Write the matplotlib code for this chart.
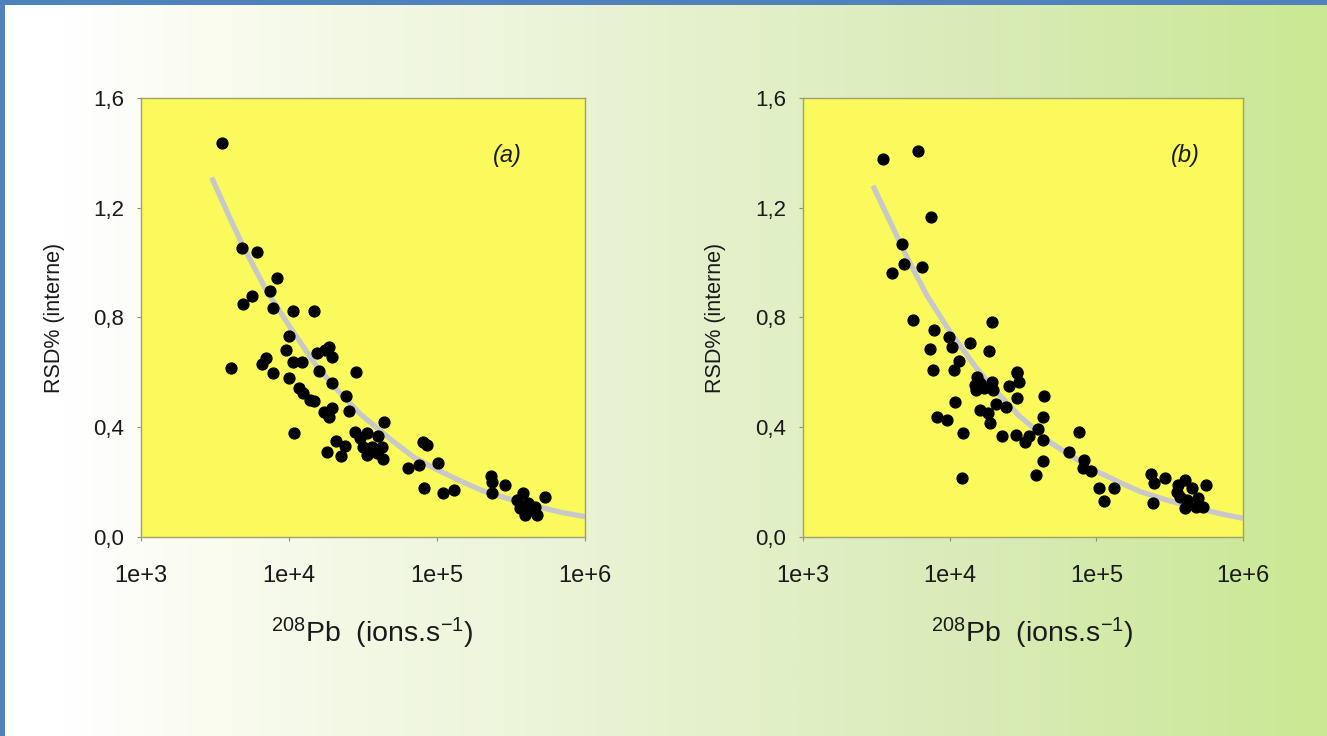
import matplotlib
matplotlib.use("Agg")
import matplotlib.pyplot as plt
import numpy as np
from matplotlib.colors import LinearSegmentedColormap
from matplotlib.patches import Rectangle

plt.rcParams['font.family'] = ['Liberation Sans', 'DejaVu Sans']
plt.rcParams['mathtext.fontset'] = 'custom'
plt.rcParams['mathtext.rm'] = 'Liberation Sans'
plt.rcParams['mathtext.it'] = 'Liberation Sans:italic'

# panel (a) measurements
a_x = [3540, 4790, 6080, 8300, 7410, 5650, 4860, 7740, 10700, 14800, 10050, 9480,
       4060, 6970, 6530, 10700, 12200, 7740, 9930, 15400, 18700, 19400, 17500, 16000,
       28400, 19400, 11600, 12400, 13900, 14800, 24300, 25300, 17300, 19400, 18600,
       43900, 10800, 20700, 18000, 22300, 23900, 27900, 30200, 33800, 40100, 31800,
       36100, 33800, 42300, 43000, 39100, 63200, 75000, 79800, 85100, 101800, 81700,
       110400, 130300, 230700, 233900, 287700, 233900, 382800, 345900, 414000,
       459200, 393600, 476400, 537000, 363900, 424600]
a_y = [1.435, 1.052, 1.040, 0.945, 0.898, 0.878, 0.849, 0.835, 0.824, 0.824,
       0.734, 0.681, 0.615, 0.651, 0.630, 0.639, 0.639, 0.599, 0.580, 0.669,
       0.694, 0.657, 0.680, 0.606, 0.603, 0.560, 0.542, 0.524, 0.499, 0.497,
       0.515, 0.460, 0.457, 0.469, 0.438, 0.420, 0.378, 0.351, 0.311, 0.296,
       0.332, 0.384, 0.360, 0.378, 0.368, 0.329, 0.329, 0.299, 0.329, 0.283,
       0.305, 0.250, 0.262, 0.347, 0.335, 0.271, 0.177, 0.159, 0.171, 0.222,
       0.202, 0.190, 0.159, 0.161, 0.135, 0.123, 0.110, 0.080, 0.080, 0.145,
       0.105, 0.098]

# panel (b) measurements
b_x = [3510, 6080, 7410, 4730, 4880, 4050, 6500, 5600, 19500, 7780, 9890, 10400,
       7350, 13800, 18500, 11600, 7690, 10700, 28600, 15300, 14900, 16100, 19300,
       19800, 15100, 17100, 28600, 29900, 25500, 28900, 44200, 10900, 20700, 24100,
       16100, 18300, 18800, 43400, 8150, 9550, 12400, 22600, 28200, 32600, 34900,
       40200, 43100, 43100, 38700, 12200, 76600, 64700, 82200, 81500, 91400, 103800,
       131800, 112700, 234400, 247200, 293800, 244300, 361400, 401800, 446700,
       558500, 371500, 413000, 495500, 401800, 477500, 535800, 352400]
b_y = [1.376, 1.408, 1.165, 1.067, 0.995, 0.962, 0.983, 0.791, 0.785, 0.754,
       0.728, 0.694, 0.684, 0.708, 0.679, 0.643, 0.609, 0.609, 0.599, 0.584,
       0.554, 0.560, 0.566, 0.536, 0.536, 0.542, 0.602, 0.566, 0.550, 0.505,
       0.515, 0.493, 0.485, 0.475, 0.463, 0.451, 0.414, 0.438, 0.438, 0.426,
       0.378, 0.368, 0.372, 0.347, 0.368, 0.392, 0.353, 0.278, 0.226, 0.216,
       0.384, 0.311, 0.281, 0.250, 0.242, 0.180, 0.177, 0.132, 0.230, 0.198,
       0.214, 0.125, 0.190, 0.208, 0.177, 0.190, 0.147, 0.135, 0.141, 0.105,
       0.110, 0.108, 0.165]

# fitted trend lines
fit_x = [3000, 4000, 5000, 7000, 1e4, 1.5e4, 2e4, 3e4, 5e4, 7e4, 1e5, 1.5e5,
         2e5, 3e5, 5e5, 7e5, 1e6]
fit_a = [1.31, 1.16, 1.05, 0.90, 0.77, 0.63, 0.55, 0.45, 0.35, 0.29, 0.245,
         0.20, 0.17, 0.14, 0.108, 0.089, 0.074]
fit_b = [1.28, 1.14, 1.03, 0.88, 0.75, 0.62, 0.54, 0.44, 0.34, 0.29, 0.24,
         0.195, 0.165, 0.135, 0.103, 0.085, 0.068]

x_ticks = [1e3, 1e4, 1e5, 1e6]
x_labels = ['1e+3', '1e+4', '1e+5', '1e+6']
y_ticks = [0.0, 0.4, 0.8, 1.2, 1.6]
y_labels = ['0,0', '0,4', '0,8', '1,2', '1,6']

fig = plt.figure(figsize=(13.27, 7.36), dpi=100)

# background gradient
bg = fig.add_axes([0, 0, 1, 1], zorder=-10)
cmap = LinearSegmentedColormap.from_list('bg', [
    (0.0, '#ffffff'), (0.05, '#ffffff'), (0.14, '#fafcf1'), (0.45, '#e9f3d4'),
    (0.75, '#d8ebb6'), (1.0, '#cae893')])
bg.imshow(np.linspace(0, 1, 512)[None, :], aspect='auto', cmap=cmap,
          extent=[0, 1, 0, 1])
bg.add_patch(Rectangle((0, 0), 0.0035, 1, color='#4f81bd', lw=0))
bg.add_patch(Rectangle((0, 0.993), 1, 0.007, color='#4f81bd', lw=0))
bg.set_xlim(0, 1)
bg.set_ylim(0, 1)
bg.axis('off')

panels = [
    ([0.1063, 0.2704, 0.3346, 0.5965], a_x, a_y, fit_a, '(a)', 0.824, -0.172, 0.52),
    ([0.6051, 0.2704, 0.3316, 0.5965], b_x, b_y, fit_b, '(b)', 0.868, -0.175, 0.522),
]

for pos, xs, ys, fit, tag, tx, ylx, xlx in panels:
    ax = fig.add_axes(pos)
    ax.set_facecolor('#fafa5c')
    ax.set_xscale('log')
    ax.set_xlim(1e3, 1e6)
    ax.set_ylim(0, 1.6)
    ax.plot(fit_x, fit, color='#c8c8c8', lw=3.8, solid_capstyle='butt', zorder=2)
    ax.plot(xs, ys, 'o', color='black', ms=7.8, zorder=3)
    ax.set_xticks(x_ticks)
    ax.set_xticklabels(x_labels)
    ax.xaxis.set_minor_locator(matplotlib.ticker.NullLocator())
    ax.set_yticks(y_ticks)
    ax.set_yticklabels(y_labels)
    ax.tick_params(axis='both', colors='#909070', labelcolor='#1a1a1a',
                   length=3, width=0.8)
    ax.tick_params(axis='y', labelsize=16, pad=9)
    ax.tick_params(axis='x', labelsize=17, pad=17)
    for s in ax.spines.values():
        s.set_color('#a0a070')
        s.set_linewidth(1.0)
    ax.set_ylabel('RSD% (interne)', fontsize=15.5, color='#1a1a1a')
    ax.yaxis.set_label_coords(ylx, 0.5)
    ax.set_xlabel('$^{208}$Pb  (ions.s$^{-1}$)', fontsize=20.5, color='#1a1a1a')
    ax.xaxis.set_label_coords(xlx, -0.18)
    ax.text(tx, 0.87, tag, transform=ax.transAxes, fontsize=17, style='italic',
            ha='center', va='center', color='#1a1a1a')

fig.savefig('out.png', dpi=100)
